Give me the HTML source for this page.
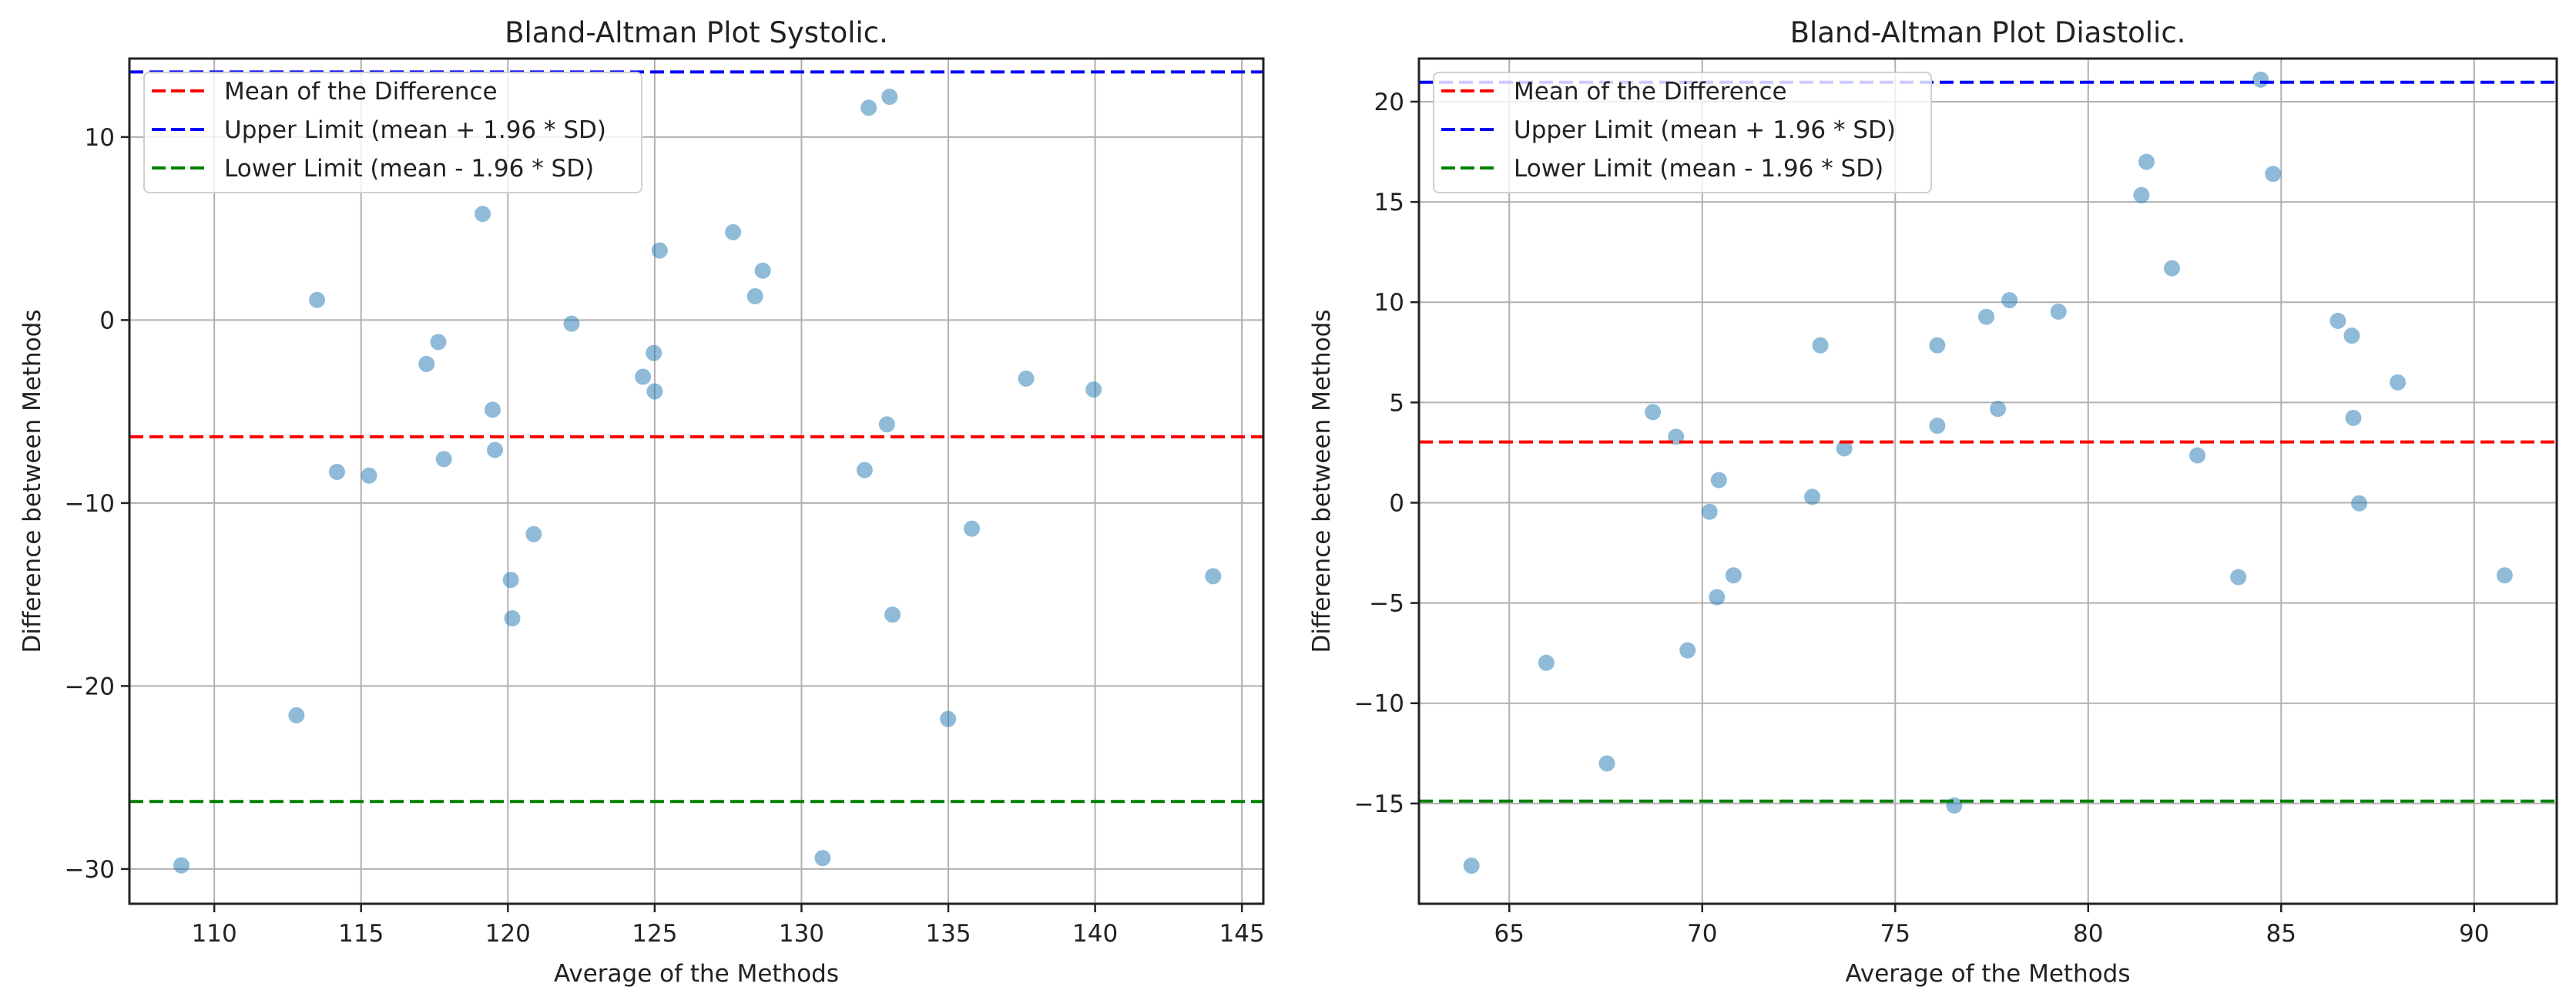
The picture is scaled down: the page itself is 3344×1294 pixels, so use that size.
<!DOCTYPE html>
<html><head><meta charset="utf-8"><style>
html,body{margin:0;padding:0;background:#fff;}
svg{display:block;font-family:"DejaVu Sans","Liberation Sans",sans-serif;}
</style></head><body>
<svg id="chart" width="3344" height="1294" viewBox="0 0 3344 1294" xmlns="http://www.w3.org/2000/svg"></svg>
<script>
// ---- Systolic data ----
const sysAvg = [108.88,112.8,113.5,114.18,115.27,117.23,117.63,117.82,119.14,119.48,119.56,120.1,120.15,120.88,122.17,124.6,124.97,125.0,125.17,127.67,128.42,128.68,130.72,132.15,132.29,132.91,133.0,133.1,134.99,135.8,137.65,139.95,144.02];
const sysDiff = [-29.8,-21.6,1.1,-8.3,-8.5,-2.4,-1.2,-7.6,5.8,-4.9,-7.1,-14.2,-16.3,-11.7,-0.2,-3.1,-1.8,-3.9,3.8,4.8,1.3,2.7,-29.4,-8.2,11.6,-5.7,12.2,-16.1,-21.8,-11.4,-3.2,-3.8,-14.0];
const sysLimits = [-6.38, 13.56, -26.31]; // mean, upper, lower
const sysXTicks = [110,115,120,125,130,135,140,145];
const sysYTicks = [10,0,-10,-20,-30];
// ---- Diastolic data ----
const diaAvg = [64.02,65.96,67.53,68.72,69.32,69.62,70.19,70.38,70.43,70.81,72.85,73.06,73.68,76.09,76.09,76.53,77.36,77.66,77.96,79.23,81.38,81.51,82.17,82.83,83.89,84.47,84.79,86.47,86.83,86.87,87.02,88.02,90.79];
const diaDiff = [-18.1,-7.98,-13.0,4.52,3.29,-7.36,-0.45,-4.71,1.13,-3.62,0.29,7.85,2.71,7.85,3.84,-15.1,9.27,4.68,10.1,9.53,15.34,17.0,11.69,2.36,-3.71,21.1,16.4,9.07,8.33,4.23,-0.03,6.0,-3.62];
const diaLimits = [3.03, 20.97, -14.88];
const diaXTicks = [65,70,75,80,85,90];
const diaYTicks = [20,15,10,5,0,-5,-10,-15];

const NS = "http://www.w3.org/2000/svg";
const svg = document.getElementById('chart');
function mk(tag, attrs, parent){
  const e = document.createElementNS(NS, tag);
  for (const k in attrs) e.setAttribute(k, attrs[k]);
  (parent||svg).appendChild(e);
  return e;
}

function panel(cfg){
  const g = mk('g', {});
  
  
  const L=cfg.left, R=cfg.right, T=76, B=1173;
  const sx = v => L + (v - cfg.xmin) / (cfg.xmax - cfg.xmin) * (R - L);
  const sy = v => B - (v - cfg.ymin) / (cfg.ymax - cfg.ymin) * (B - T);
  // grid
  cfg.xt.forEach(t => {
    const l = mk('line', {x1:sx(t), x2:sx(t), y1:T, y2:B, stroke:'#b0b0b0', 'stroke-width':2}, g);
    
    
    const tk = mk('line', {x1:sx(t), x2:sx(t), y1:B, y2:B+11, stroke:'#222', 'stroke-width':2.5}, g);
    
    
    const tx = mk('text', {x:sx(t), y:1222, 'font-size':31, fill:'#222', 'text-anchor':'middle'}, g);
    tx.textContent = String(t);
    
    
  });
  cfg.yt.forEach(t => {
    const l = mk('line', {x1:L, x2:R, y1:sy(t), y2:sy(t), stroke:'#b0b0b0', 'stroke-width':2}, g);
    
    
    const tk = mk('line', {x1:L-11, x2:L, y1:sy(t), y2:sy(t), stroke:'#222', 'stroke-width':2.5}, g);
    
    
    const tx = mk('text', {x:L-19, y:sy(t)+11, 'font-size':31, fill:'#222', 'text-anchor':'end'}, g);
    tx.textContent = (t<0 ? '\u2212'+Math.abs(t) : String(t));
    
    
  });
  // points
  cfg.xs.forEach((v,i) => {
    const c = mk('circle', {cx:sx(v), cy:sy(cfg.ys[i]), r:10.5, fill:'#1f77b4', 'fill-opacity':0.5}, g);
    
    
  });
  // limit lines
  const cols = ['#ff0000','#0000ff','#008000'];
  const lnames = ['mean-line','upper-limit-line','lower-limit-line'];
  cfg.lim.forEach((v,i) => {
    const l = mk('line', {x1:L, x2:R, y1:sy(v), y2:sy(v), stroke:cols[i], 'stroke-width':4, 'stroke-dasharray':'18 8'}, g);
    
    
  });
  // spines
  const fr = mk('rect', {x:L, y:T, width:R-L, height:B-T, fill:'none', stroke:'#222', 'stroke-width':3}, g);
  
  
  // legend
  const lg = mk('g', {}, g);
  
  
  const lx = L+19;
  mk('rect', {x:lx, y:94, width:646, height:156, rx:7, fill:'#fff', 'fill-opacity':0.8, stroke:'#d0d0d0', 'stroke-width':2}, lg);
  const labels = ['Mean of the Difference','Upper Limit (mean + 1.96 * SD)','Lower Limit (mean - 1.96 * SD)'];
  labels.forEach((s,i) => {
    const yy = 118 + i*50;
    const e = mk('g', {}, lg);
    
    
    mk('line', {x1:lx+10, x2:lx+78, y1:yy, y2:yy, stroke:cols[i], 'stroke-width':4, 'stroke-dasharray':'18 7'}, e);
    const t = mk('text', {x:lx+104, y:yy+11, 'font-size':31, fill:'#222'}, e);
    t.textContent = s;
  });
  // title & labels
  const ti = mk('text', {x:(L+R)/2, y:55, 'font-size':37, fill:'#222', 'text-anchor':'middle'}, g);
  ti.textContent = cfg.title;
  
  
  const xl = mk('text', {x:(L+R)/2, y:1274, 'font-size':31, fill:'#222', 'text-anchor':'middle'}, g);
  xl.textContent = 'Average of the Methods';
  
  
  const yx = cfg.left - 116, yc = (T+B)/2;
  const yl = mk('text', {x:yx, y:yc, 'font-size':31, fill:'#222', 'text-anchor':'middle', transform:`rotate(-90 ${yx} ${yc})`}, g);
  yl.textContent = 'Difference between Methods';
  
  
}

panel({name:'systolic-panel', title:'Bland-Altman Plot Systolic.', left:168, right:1640,
  xmin:107.11, xmax:145.73, ymin:-31.9, ymax:14.29, xt:sysXTicks, yt:sysYTicks,
  xs:sysAvg, ys:sysDiff, lim:sysLimits});
panel({name:'diastolic-panel', title:'Bland-Altman Plot Diastolic.', left:1842, right:3319,
  xmin:62.66, xmax:92.14, ymin:-20.0, ymax:22.15, xt:diaXTicks, yt:diaYTicks,
  xs:diaAvg, ys:diaDiff, lim:diaLimits});
</script>
</body></html>
